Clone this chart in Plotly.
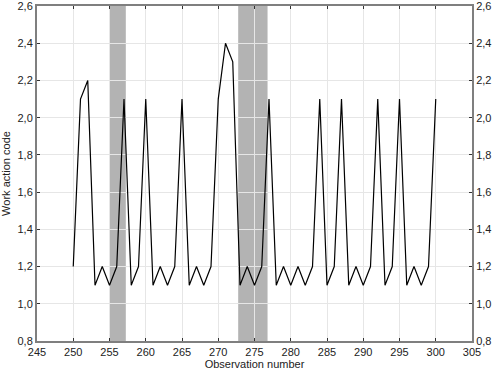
import plotly.graph_objects as go

obs = list(range(250, 301))
code = [1.2, 2.1, 2.2, 1.1, 1.2, 1.1, 1.2, 2.1, 1.1, 1.2,
        2.1, 1.1, 1.2, 1.1, 1.2, 2.1, 1.1, 1.2, 1.1, 1.2,
        2.1, 2.4, 2.3, 1.1, 1.2, 1.1, 1.2, 2.1, 1.1, 1.2,
        1.1, 1.2, 1.1, 1.2, 2.1, 1.1, 1.2, 2.1, 1.1, 1.2,
        1.1, 1.2, 2.1, 1.1, 1.2, 2.1, 1.1, 1.2, 1.1, 1.2,
        2.1]
bands = [(254.97, 257.25), (272.75, 276.8)]
y_ticks = [0.8, 1.0, 1.2, 1.4, 1.6, 1.8, 2.0, 2.2, 2.4, 2.6]

font = dict(family="Liberation Sans, Arial, sans-serif", size=11, color="#222222")

fig = go.Figure()
fig.add_trace(go.Scatter(x=obs, y=code, mode="lines",
                         line=dict(color="black", width=1.2), showlegend=False))
fig.add_trace(go.Scatter(x=obs, y=code, mode="lines", yaxis="y2",
                         line=dict(color="rgba(0,0,0,0)", width=0),
                         hoverinfo="skip", showlegend=False))

for x0, x1 in bands:
    fig.add_shape(type="rect", xref="x", yref="paper", x0=x0, x1=x1, y0=0, y1=1,
                  fillcolor="#b3b3b3", line=dict(width=0), layer="below")

axis_common = dict(showline=True, linecolor="#7f7f7f", linewidth=2,
                   ticks="inside", ticklen=3, tickcolor="#333333",
                   gridcolor="#e6e6e6", gridwidth=1, zeroline=False,
                   tickfont=font, automargin=False, ticklabeloverflow="allow")

fig.update_layout(
    template="none",
    width=494, height=374,
    margin=dict(l=37, r=22, t=6, b=33),
    plot_bgcolor="white", paper_bgcolor="white",
    separators=",.",
    font=font,
    xaxis=dict(range=[245, 305], dtick=5, tick0=245, mirror="ticks",
               title=dict(text="Observation number", font=font, standoff=2),
               **axis_common),
    yaxis=dict(range=[0.8, 2.6], tickvals=y_ticks, tickformat=".1f",
               title=dict(text="Work action code", font=font, standoff=5),
               **axis_common),
    yaxis2=dict(range=[0.8, 2.6], tickvals=y_ticks, tickformat=".1f",
                overlaying="y", side="right", showgrid=False,
                **{k: v for k, v in axis_common.items() if k not in ("gridcolor", "gridwidth")}),
)

fig.write_html("out.html", config={"displayModeBar": False},
               post_script="document.body.style.margin='0';document.body.style.overflow='hidden';")
